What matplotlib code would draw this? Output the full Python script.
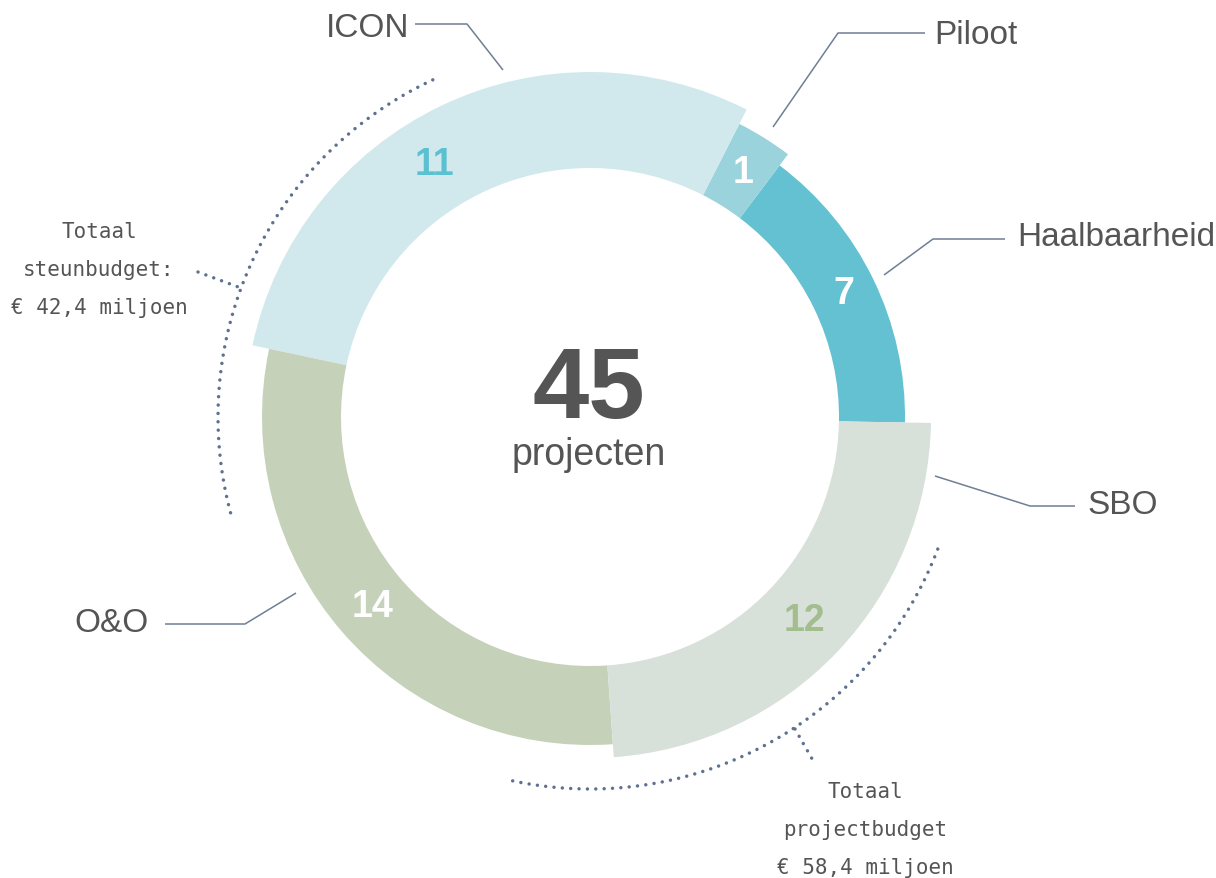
import numpy as np
import matplotlib
matplotlib.use("Agg")
import matplotlib.pyplot as plt
from matplotlib.patches import Wedge

# ---- data ----
categories = ["Haalbaarheid", "Piloot", "ICON", "O&O", "SBO"]
counts = [7, 1, 11, 14, 12]
arc_deg = [54, 10, 105, 106, 85]          # angular span of each segment as drawn in the picture
total_projects = 45
budget_labels = ["Totaal\nsteunbudget:\n€ 42,4 miljoen",
                 "Totaal\nprojectbudget\n€ 58,4 miljoen"]

# ---- style ----
seg_colors = ["#63C1D2", "#9AD3DC", "#D1E9EC", "#C5D1B8", "#D8E0DA"]
num_colors = ["white", "white", "#5BC0D0", "white", "#A3BD8E"]
outer_r = [315, 329, 345, 328, 341]
inner_r = 249
label_shift = [0, 0, 6, 0, 0]
start_angle = -1
W, H = 1216, 879
cx, cy = 590, 418            # centre in image pixels
text_col = "#555555"
line_col = "#6F7F95"

fig = plt.figure(figsize=(W / 100, H / 100), dpi=100)
ax = fig.add_axes([0, 0, 1, 1])
ax.set_xlim(0, W)
ax.set_ylim(0, H)
ax.axis("off")


def P(x, y):
    return x, H - y


C = P(cx, cy)
theta = start_angle
for i, (cat, n, span) in enumerate(zip(categories, counts, arc_deg)):
    t1, t2 = theta, theta + span
    ax.add_patch(Wedge(C, outer_r[i], t1, t2, width=outer_r[i] - inner_r,
                       facecolor=seg_colors[i], edgecolor="none"))
    mid = np.deg2rad((t1 + t2) / 2 + label_shift[i])
    rm = (outer_r[i] + inner_r) / 2
    ax.text(C[0] + rm * np.cos(mid), C[1] + rm * np.sin(mid), str(n),
            ha="center", va="center", fontsize=27, fontweight="bold",
            color=num_colors[i], family="Liberation Sans")
    theta = t2

# centre text
ax.text(*P(589, 392), str(total_projects), ha="center", va="center",
        fontsize=73, fontweight="bold", color=text_col, family="Liberation Sans")
ax.text(*P(589, 455), "projecten", ha="center", va="center",
        fontsize=27, color=text_col, family="Liberation Sans")

# category labels with leader lines
label_pos = {"ICON": (368, 28, "center"), "Piloot": (976, 35, "center"),
             "Haalbaarheid": (1116, 238, "center"), "SBO": (1123, 505, "center"),
             "O&O": (112, 623, "center")}
leaders = {"ICON": [(415, 25), (467, 25), (503, 71)],
           "Piloot": [(925, 34), (838, 34), (773, 128)],
           "Haalbaarheid": [(1005, 240), (933, 240), (884, 276)],
           "SBO": [(1075, 507), (1030, 507), (935, 477)],
           "O&O": [(165, 625), (245, 625), (296, 594)]}
for cat in categories:
    x, y, ha = label_pos[cat]
    ax.text(*P(x, y), cat, ha=ha, va="center", fontsize=24, color=text_col,
            family="Liberation Sans")
    pts = np.array([P(px, py) for px, py in leaders[cat]])
    ax.plot(pts[:, 0], pts[:, 1], color=line_col, lw=1.1, solid_capstyle="butt")

# dotted arcs
dot_kw = dict(color="#5E7290", lw=2.5, linestyle=(0, (0.01, 2.4)),
              dash_capstyle="round")
arc_r = 372
for a1, a2 in [(115, 196), (258, 340)]:
    t = np.deg2rad(np.linspace(a1, a2, 300))
    ax.plot(C[0] + arc_r * np.cos(t), C[1] + arc_r * np.sin(t), **dot_kw)
for seg in [[(198, 273), (241, 289)], [(795, 730), (815, 765)]]:
    pts = np.array([P(px, py) for px, py in seg])
    ax.plot(pts[:, 0], pts[:, 1], **dot_kw)

# budget texts
for (x, y), txt in zip([(99, 270), (865, 830)], budget_labels):
    ax.text(*P(x, y), txt, ha="center", va="center", fontsize=15,
            color=text_col, family="DejaVu Sans Mono", linespacing=2.1)

fig.savefig("out.png", dpi=100, facecolor="white")
